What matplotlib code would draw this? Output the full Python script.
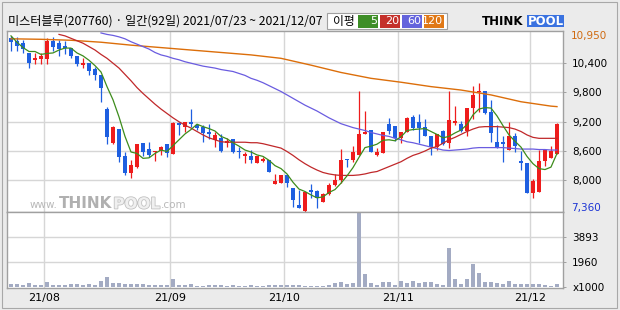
import numpy as np
import matplotlib
matplotlib.use('Agg')
import matplotlib.pyplot as plt
import matplotlib.transforms as mtransforms
import matplotlib.patheffects as pe
from matplotlib.patches import Rectangle

plt.rcParams['font.family'] = ['DejaVu Sans', 'Noto Sans CJK KR']

title = '미스터블루(207760) · 일간(92일) 2021/07/23 ~ 2021/12/07'
legend_items = [('5', '#3e8e27'), ('20', '#c4302a'), ('60', '#6464dc'), ('120', '#e07816')]
month_labels = ['21/08', '21/09', '21/10', '21/11', '21/12']
month_start = [6, 27, 46, 65, 87]   # index of first trading day of the month
price_ticks = [10400, 9800, 9200, 8600, 8000]
price_max, price_min = 10950, 7360
vol_ticks = [1960, 3893]

opens = [10920, 10860, 10810, 10600, 10460, 10490, 10490, 10860, 10810, 10750,
         10710, 10550, 10360, 10400, 10280, 10160, 9460, 8760, 9050, 8500,
         8140, 8270, 8760, 8640, 8570, 8610, 8740, 8540, 9180, 9090,
         9200, 9130, 9090, 8980, 8830, 8870, 8760, 8850, 8580, 8490,
         8500, 8360, 8400, 8420, 7920, 7940, 8110, 7840, 7490, 7380,
         7800, 7780, 7550, 7710, 7900, 8010, 8440, 8420, 8510, 8940,
         9030, 8510, 8550, 9160, 9110, 8870, 9000, 9300, 9200, 9090,
         8910, 8690, 9010, 8760, 9180, 9160, 9020, 9480, 9810, 9830,
         9390, 8780, 8780, 8630, 8910, 8400, 8350, 7730, 7750, 8390,
         8450, 8530]
highs = [10950, 10940, 10880, 10600, 10600, 10600, 10910, 10930, 10880, 10860,
         10720, 10550, 10500, 10400, 10330, 10160, 9510, 9120, 9050, 8590,
         8420, 8750, 8770, 8780, 8610, 8710, 8750, 9190, 9190, 9200,
         9460, 9150, 9130, 9150, 8980, 8950, 8860, 8850, 8680, 8590,
         8620, 8490, 8470, 8420, 8130, 8110, 8110, 7840, 7800, 7770,
         7920, 7800, 7730, 7940, 8130, 8640, 8440, 8710, 9830, 9410,
         9030, 8670, 8980, 9270, 9110, 8990, 9290, 9330, 9350, 9250,
         8910, 8950, 9030, 9820, 9520, 9220, 9480, 9930, 9990, 9830,
         9650, 9130, 8900, 9200, 8960, 8600, 8350, 8020, 8620, 8640,
         8700, 9170]
lows = [10640, 10640, 10600, 10300, 10390, 10390, 10390, 10650, 10540, 10580,
        10500, 10350, 10310, 10150, 10060, 9610, 8740, 8740, 8370, 8100,
        8040, 8260, 8490, 8470, 8400, 8510, 8470, 8530, 8930, 9000,
        9100, 9030, 8790, 8840, 8690, 8570, 8680, 8550, 8460, 8350,
        8350, 8360, 8380, 8160, 7920, 7940, 7870, 7460, 7430, 7360,
        7640, 7440, 7550, 7690, 7890, 7940, 8270, 8380, 8510, 8940,
        8590, 8490, 8550, 8940, 8810, 8770, 8980, 9030, 8760, 8900,
        8520, 8620, 8720, 8660, 9130, 9000, 8900, 9250, 9390, 9350,
        8790, 8660, 8380, 8620, 8590, 8210, 7730, 7640, 7750, 8300,
        8450, 8530]
closes = [10840, 10750, 10690, 10400, 10510, 10550, 10860, 10740, 10690, 10710,
          10540, 10380, 10410, 10250, 10150, 9890, 8880, 9100, 8470, 8140,
          8310, 8740, 8570, 8520, 8600, 8690, 8550, 9180, 9130, 9200,
          9150, 9070, 8960, 8940, 8930, 8610, 8810, 8570, 8570, 8540,
          8420, 8490, 8440, 8160, 7990, 8110, 7940, 7600, 7440, 7750,
          7770, 7630, 7720, 7900, 8010, 8420, 8410, 8570, 8950, 8980,
          8590, 8590, 8980, 9020, 8860, 8990, 9270, 9080, 9070, 8900,
          8690, 8950, 8740, 9240, 9220, 9020, 9480, 9750, 9830, 9370,
          8960, 8680, 8750, 8910, 8710, 8350, 7730, 7990, 8400, 8620,
          8610, 9150]
volumes = [220, 210, 130, 320, 130, 130, 400, 130, 130, 130,
           190, 190, 130, 220, 130, 450, 790, 270, 320, 190,
           190, 190, 190, 130, 130, 130, 130, 610, 130, 130,
           210, 80, 80, 130, 130, 130, 80, 130, 80, 80,
           130, 80, 80, 130, 130, 130, 130, 130, 130, 80,
           80, 80, 80, 130, 270, 340, 190, 270, 5840, 1000,
           270, 130, 400, 400, 130, 450, 270, 450, 270, 400,
           400, 190, 130, 3070, 610, 190, 610, 1790, 1080, 400,
           400, 270, 190, 450, 190, 190, 240, 190, 190, 130,
           80, 240]

ma5 = [10960, 10830, 10720, 10640, 10640, 10580, 10600, 10610, 10670, 10710,
       10710, 10610, 10550, 10460, 10350, 10220, 9920, 9650, 9300, 8900,
       8580, 8550, 8450, 8460, 8550, 8620, 8590, 8710, 8830, 8950,
       9040, 9150, 9100, 9060, 9010, 8900, 8850, 8770, 8700, 8620,
       8580, 8520, 8490, 8410, 8300, 8240, 8130, 7960, 7820, 7770,
       7700, 7640, 7660, 7750, 7810, 7940, 8090, 8260, 8470, 8670,
       8700, 8740, 8820, 8830, 8810, 8890, 9020, 9040, 9050, 9060,
       9000, 8940, 8870, 8900, 8970, 9030, 9140, 9340, 9460, 9490,
       9480, 9320, 9120, 8930, 8800, 8680, 8490, 8340, 8240, 8220,
       8270, 8550]
ma20_from = 8
ma20 = [10990, 10960, 10910, 10860, 10810, 10740, 10670, 10580, 10500, 10400,
        10300, 10170, 10040, 9900, 9780, 9670, 9560, 9460, 9370, 9280,
        9200, 9130, 9070, 9000, 8930, 8870, 8830, 8790, 8780, 8780,
        8780, 8780, 8770, 8770, 8750, 8720, 8690, 8660, 8590, 8510,
        8420, 8340, 8270, 8210, 8160, 8130, 8110, 8100, 8100, 8100,
        8110, 8130, 8160, 8180, 8230, 8280, 8330, 8380, 8450, 8510,
        8550, 8600, 8660, 8690, 8760, 8830, 8880, 8940, 9000, 9050,
        9090, 9100, 9100, 9100, 9090, 9080, 9050, 9000, 8930, 8880,
        8860, 8860, 8860, 8860]
ma60_from = 15
ma60 = [11020, 10990, 10970, 10940, 10900, 10840, 10790, 10740, 10690, 10620,
        10570, 10540, 10500, 10470, 10430, 10400, 10370, 10340, 10320, 10300,
        10270, 10250, 10230, 10190, 10150, 10090, 10050, 10000, 9940, 9880,
        9820, 9750, 9680, 9610, 9540, 9480, 9420, 9350, 9280, 9220,
        9160, 9120, 9080, 9050, 9020, 8980, 8950, 8920, 8900, 8860,
        8830, 8790, 8770, 8740, 8710, 8680, 8650, 8620, 8610, 8620,
        8630, 8640, 8660, 8670, 8670, 8670, 8670, 8670, 8660, 8650,
        8640, 8640, 8640, 8630, 8630, 8620, 8620]
ma120_days = [0, 5, 10, 15, 20, 25, 30, 35, 40, 45, 50, 55, 60, 65, 70, 75, 80, 85, 90, 91]
ma120 = [10900, 10890, 10870, 10830, 10770, 10720, 10670, 10620, 10570, 10500,
         10360, 10210, 10090, 10010, 9920, 9850, 9750, 9610, 9520, 9510]

W, H = 620, 310
RED, BLUE = '#ee1c1c', '#1e5fe0'
GRID = '#d6d6d6'
EDGE = '#a0a0a0'


def fx(x):
    return x / W


def fy(y):
    return 1 - y / H


fig = plt.figure(figsize=(W / 100, H / 100), dpi=100, facecolor='#ebebeb')
ax = fig.add_axes([fx(7), fy(212), 555.5 / W, 181 / H])
axv = fig.add_axes([fx(7), fy(288), 555.5 / W, 76 / H], sharex=ax)

days = np.arange(len(closes))
o = np.array(opens)
c = np.array(closes)
up = c >= o
colors = np.where(up, RED, BLUE)

# gridlines
for v in price_ticks:
    ax.axhline(v, color=GRID, lw=1, zorder=0)
for v in vol_ticks:
    axv.axhline(v, color=GRID, lw=1, zorder=0)
for m in month_start:
    ax.axvline(m - 0.5, color=GRID, lw=1, zorder=0)
    axv.axvline(m - 0.5, color=GRID, lw=1, zorder=0)

# candles
ax.vlines(days, lows, highs, colors=colors, lw=0.9, zorder=2)
body_lo = np.minimum(o, c)
body_h = np.maximum(np.abs(c - o), 22)
ax.bar(days, body_h, bottom=body_lo, width=0.68, color=colors, lw=0, zorder=2)

# moving averages
ax.plot(ma120_days, ma120, color='#dc6e0a', lw=1, zorder=3)
ax.plot(days[ma60_from:], ma60, color='#6a5ce0', lw=0.9, zorder=3)
ax.plot(days[ma20_from:], ma20, color='#c0282a', lw=0.9, zorder=3)
ax.plot(days, ma5, color='#3d8c1c', lw=0.9, zorder=3)

# volume
axv.bar(days, volumes, width=0.7, color='#a3abc3', lw=0, zorder=2)

ax.set_xlim(-0.667, 91.92)
ax.set_ylim(7350, 11060)
axv.set_ylim(-100, 5900)

for a in (ax, axv):
    a.set_facecolor('white')
    for s in a.spines.values():
        s.set_color(EDGE)
        s.set_linewidth(1)
    a.yaxis.tick_right()
    a.tick_params(axis='y', length=2, width=0.7, color=EDGE, pad=5, labelsize=7.5)

ax.set_yticks(price_ticks)
ax.set_yticklabels([f'{v:,}' for v in price_ticks])
ax.tick_params(axis='x', bottom=False, labelbottom=False)

axv.set_yticks(vol_ticks + [0])
axv.set_yticklabels([str(v) for v in vol_ticks] + ['x1000'])
axv.set_xticks([m - 0.5 for m in month_start])
axv.set_xticklabels(month_labels)
axv.tick_params(axis='x', length=0, pad=3.5, labelsize=8)

# max / min price labels
lab_tr = mtransforms.blended_transform_factory(ax.transAxes, ax.transData)
xl = 1 + 8.5 / 555.5
ax.text(xl, price_max, f'{price_max:,}', transform=lab_tr, fontsize=7.5,
        color='#d06a10', va='center', ha='left')
ax.text(xl, price_min, f'{price_min:,}', fontsize=7.5, color='#1c34d4', va='center', ha='left',
        transform=lab_tr + mtransforms.ScaledTranslation(0, 3.5 / 100, fig.dpi_scale_trans))

# header
fig.text(fx(7.5), fy(21.5), title, fontsize=8.75, va='center', ha='left',
         family=['Noto Sans CJK KR', 'DejaVu Sans'])
fig.add_artist(Rectangle((fx(327), fy(29.3)), 120 / W, 16 / H, transform=fig.transFigure,
                         facecolor='white', edgecolor=EDGE, lw=0.8))
fig.text(fx(333), fy(21.3), '이평', fontsize=8.5, va='center', ha='left',
         family=['Noto Sans CJK KR', 'DejaVu Sans'])
bx = 358
for lab, col in legend_items:
    fig.add_artist(Rectangle((fx(bx), fy(27.5)), 20 / W, 12.5 / H, transform=fig.transFigure,
                             facecolor=col, edgecolor='none'))
    fig.text(fx(bx + 19), fy(21.5), lab, fontsize=8, color='white', va='center', ha='right')
    bx += 22

# logo
fig.text(fx(482), fy(21.5), 'THINK', fontsize=8.5, weight='bold', va='center', ha='left')
fig.add_artist(Rectangle((fx(527), fy(27)), 37 / W, 12 / H, transform=fig.transFigure,
                         facecolor='#3a72e0', edgecolor='none'))
fig.text(fx(545.5), fy(21.5), 'POOL', fontsize=8.5, weight='bold', color='white',
         va='center', ha='center')

# watermark, pieces placed one after another
renderer = fig.canvas.get_renderer()
wm = [('www.', 7.5, 'normal', '#b8b8b8', None),
      ('THINK', 11, 'bold', '#b0b0b0', None),
      ('POOL', 11, 'bold', '#f0f0f0', '#c2c2c2'),
      ('.com', 7.5, 'normal', '#b8b8b8', None)]
px = 30
for s, size, wt, col, outline in wm:
    t = fig.text(fx(px), fy(208.5), s, fontsize=size, weight=wt, color=col, va='baseline')
    if outline:
        t.set_path_effects([pe.withStroke(linewidth=1.2, foreground=outline)])
    px += t.get_window_extent(renderer).width + 1

fig.add_artist(Rectangle((fx(1.5), fy(307.5)), 615 / W, 306 / H, transform=fig.transFigure,
                         facecolor='none', edgecolor='#a8a8a8', lw=0.8))

fig.savefig('out.png', dpi=100, facecolor=fig.get_facecolor())
